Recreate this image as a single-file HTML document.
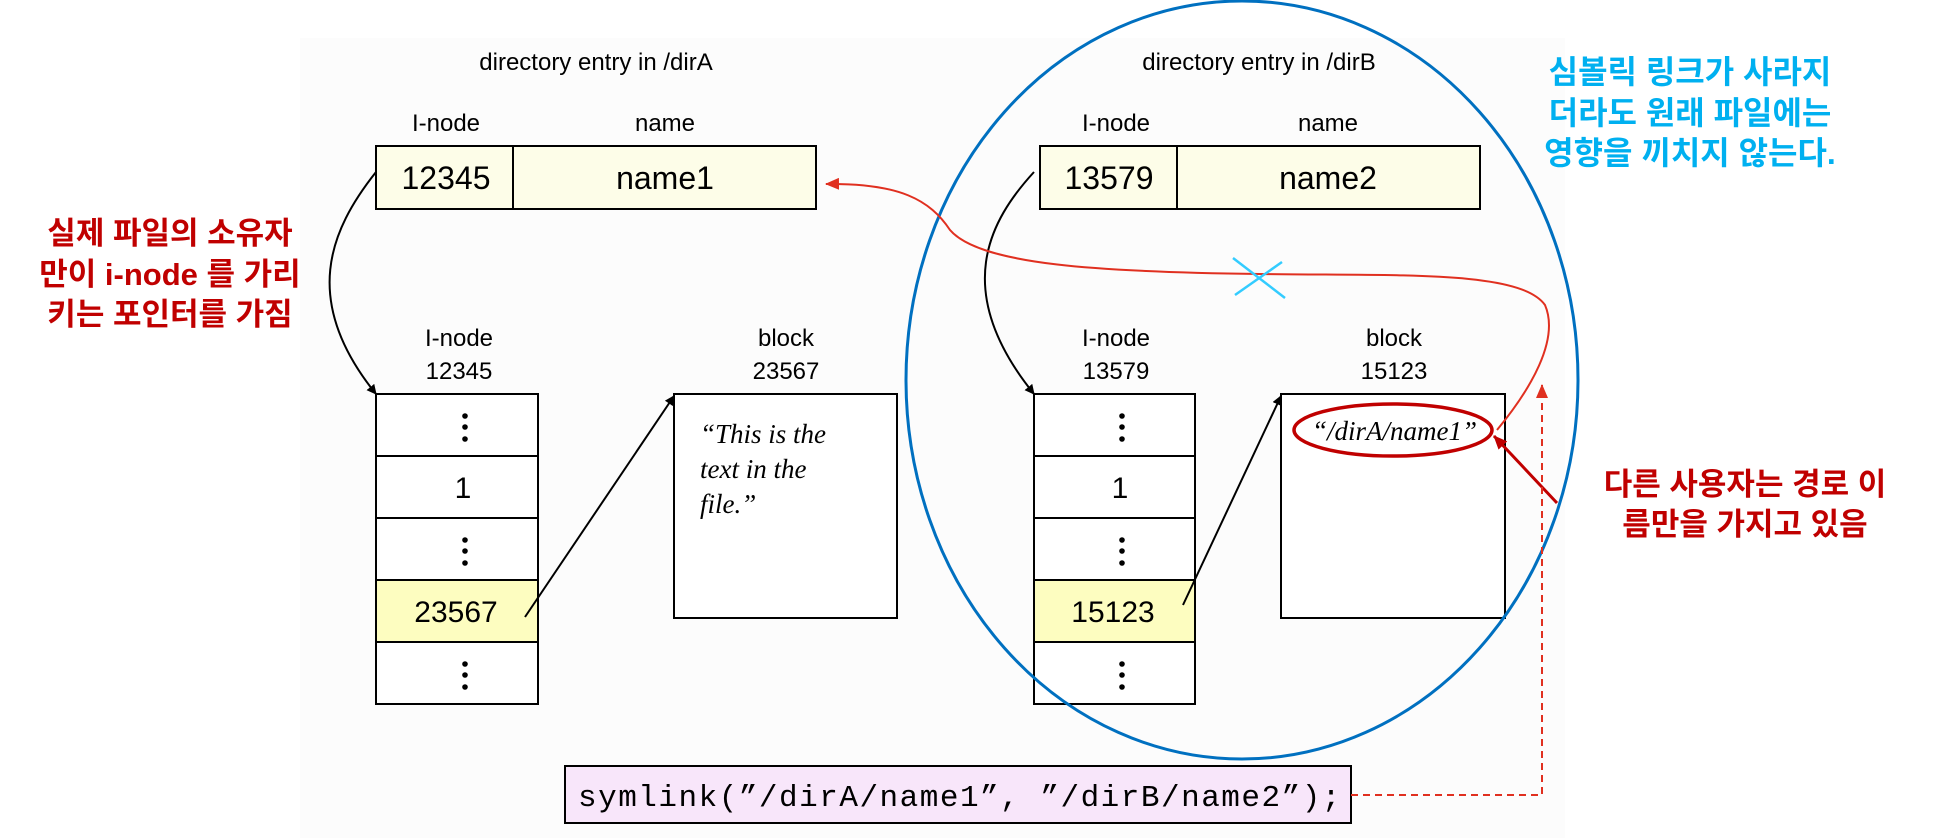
<!DOCTYPE html>
<html><head><meta charset="utf-8"><style>
html,body{margin:0;padding:0;background:#fff;}
svg{display:block;}
.s{font-family:"Liberation Sans","Noto Sans CJK KR",sans-serif;}
</style></head><body>
<svg width="1936" height="840" viewBox="0 0 1936 840" xmlns="http://www.w3.org/2000/svg">
<defs>
<marker id="ab" markerWidth="10" markerHeight="10" refX="9" refY="5" orient="auto" markerUnits="userSpaceOnUse"><path d="M0,0 L10,5 L0,10 z" fill="#000"/></marker>
<marker id="ar" markerWidth="14" markerHeight="12" refX="13" refY="6" orient="auto" markerUnits="userSpaceOnUse"><path d="M0,0 L14,6 L0,12 z" fill="#e03020"/></marker>
<marker id="ad" markerWidth="14" markerHeight="12" refX="13" refY="6" orient="auto" markerUnits="userSpaceOnUse"><path d="M0,0 L14,6 L0,12 z" fill="#c00000"/></marker>
</defs>
<rect x="300" y="38" width="1265" height="800" fill="#fcfcfc"/>
<g class="s" font-size="24" text-anchor="middle" fill="#000">
<text x="596" y="70">directory entry in /dirA</text>
<text x="446" y="131">I-node</text><text x="665" y="131">name</text>
<text x="1259" y="70">directory entry in /dirB</text>
<text x="1116" y="131">I-node</text><text x="1328" y="131">name</text>
<text x="459" y="346">I-node</text><text x="459" y="379">12345</text>
<text x="786" y="346">block</text><text x="786" y="379">23567</text>
<text x="1116" y="346">I-node</text><text x="1116" y="379">13579</text>
<text x="1394" y="346">block</text><text x="1394" y="379">15123</text>
</g>
<g stroke="#000" stroke-width="2" fill="#fdfde8">
<rect x="376" y="146" width="440" height="63"/><line x1="513" y1="146" x2="513" y2="209"/>
<rect x="1040" y="146" width="440" height="63"/><line x1="1177" y1="146" x2="1177" y2="209"/>
</g>
<g class="s" font-size="32" text-anchor="middle">
<text x="446" y="189">12345</text><text x="665" y="189">name1</text>
<text x="1109" y="189">13579</text><text x="1328" y="189">name2</text>
</g>
<g stroke="#000" stroke-width="2">
<rect x="376" y="394" width="162" height="62" fill="#fff"/>
<rect x="376" y="456" width="162" height="62" fill="#fff"/>
<rect x="376" y="518" width="162" height="62" fill="#fff"/>
<rect x="376" y="580" width="162" height="62" fill="#fdfdc0"/>
<rect x="376" y="642" width="162" height="62" fill="#fff"/>
<rect x="1034" y="394" width="161" height="62" fill="#fff"/>
<rect x="1034" y="456" width="161" height="62" fill="#fff"/>
<rect x="1034" y="518" width="161" height="62" fill="#fff"/>
<rect x="1034" y="580" width="161" height="62" fill="#fdfdc0"/>
<rect x="1034" y="642" width="161" height="62" fill="#fff"/>
<rect x="674" y="394" width="223" height="224" fill="#fff"/>
<rect x="1281" y="394" width="224" height="224" fill="#fff"/>
</g>
<g fill="#000">
<circle cx="465" cy="416" r="2.8"/><circle cx="465" cy="427" r="2.8"/><circle cx="465" cy="439" r="2.8"/>
<circle cx="465" cy="540" r="2.8"/><circle cx="465" cy="551" r="2.8"/><circle cx="465" cy="563" r="2.8"/>
<circle cx="465" cy="664" r="2.8"/><circle cx="465" cy="675" r="2.8"/><circle cx="465" cy="687" r="2.8"/>
<circle cx="1122" cy="416" r="2.8"/><circle cx="1122" cy="427" r="2.8"/><circle cx="1122" cy="439" r="2.8"/>
<circle cx="1122" cy="540" r="2.8"/><circle cx="1122" cy="551" r="2.8"/><circle cx="1122" cy="563" r="2.8"/>
<circle cx="1122" cy="664" r="2.8"/><circle cx="1122" cy="675" r="2.8"/><circle cx="1122" cy="687" r="2.8"/>
</g>
<g class="s" font-size="30" text-anchor="middle">
<text x="463" y="498">1</text><text x="456" y="622">23567</text>
<text x="1120" y="498">1</text><text x="1113" y="622">15123</text>
</g>
<g font-family="'Liberation Serif',serif" font-style="italic" font-size="27">
<text x="700" y="443">“This is the</text>
<text x="700" y="478">text in the</text>
<text x="700" y="513">file.”</text>
<text x="1312" y="440" font-size="27">“/dirA/name1”</text>
</g>
<g stroke="#000" stroke-width="2" fill="none">
<path d="M376,172 C330,230 300,300 376,394" marker-end="url(#ab)"/>
<path d="M1034,172 C990,220 950,290 1034,394" marker-end="url(#ab)"/>
<line x1="525" y1="617" x2="674" y2="396" marker-end="url(#ab)"/>
<line x1="1183" y1="605" x2="1281" y2="396" marker-end="url(#ab)"/>
</g>
<ellipse cx="1242" cy="380" rx="336" ry="379" fill="none" stroke="#0070c0" stroke-width="3"/>
<path d="M1497,430 C1530,390 1560,340 1545,305 C1520,270 1400,276 1260,274 C1100,272 980,265 950,230 C930,200 900,183 826,184" fill="none" stroke="#e03020" stroke-width="2" marker-end="url(#ar)"/>
<g stroke="#33ccff" stroke-width="2.5"><line x1="1233" y1="258" x2="1285" y2="298"/><line x1="1282" y1="262" x2="1235" y2="295"/></g>
<ellipse cx="1393" cy="430" rx="99" ry="26" fill="none" stroke="#c00000" stroke-width="3.5"/>
<line x1="1557" y1="503" x2="1494" y2="436" stroke="#c00000" stroke-width="3" marker-end="url(#ad)"/>
<rect x="565" y="766" width="786" height="57" fill="#f8e6fa" stroke="#000" stroke-width="2"/>
<text x="578" y="806" font-family="'Liberation Mono',monospace" font-size="31" letter-spacing="1.5">symlink(”/dirA/name1”, ”/dirB/name2”);</text>
<path d="M1351,795 L1542,795 L1542,385" fill="none" stroke="#e03020" stroke-width="2" stroke-dasharray="7,5" marker-end="url(#ar)"/>
<g class="s" font-weight="bold" font-size="31" fill="#c00000" text-anchor="middle">
<text x="170" y="244">실제 파일의 소유자</text>
<text x="170" y="285">만이 i-node 를 가리</text>
<text x="170" y="325">키는 포인터를 가짐</text>
<text x="1745" y="495">다른 사용자는 경로 이</text>
<text x="1745" y="535">름만을 가지고 있음</text>
</g>
<g class="s" font-weight="bold" font-size="32" fill="#00b0f0" text-anchor="middle">
<text x="1690" y="83">심볼릭 링크가 사라지</text>
<text x="1690" y="124">더라도 원래 파일에는</text>
<text x="1690" y="164">영향을 끼치지 않는다.</text>
</g>
</svg>
</body></html>
